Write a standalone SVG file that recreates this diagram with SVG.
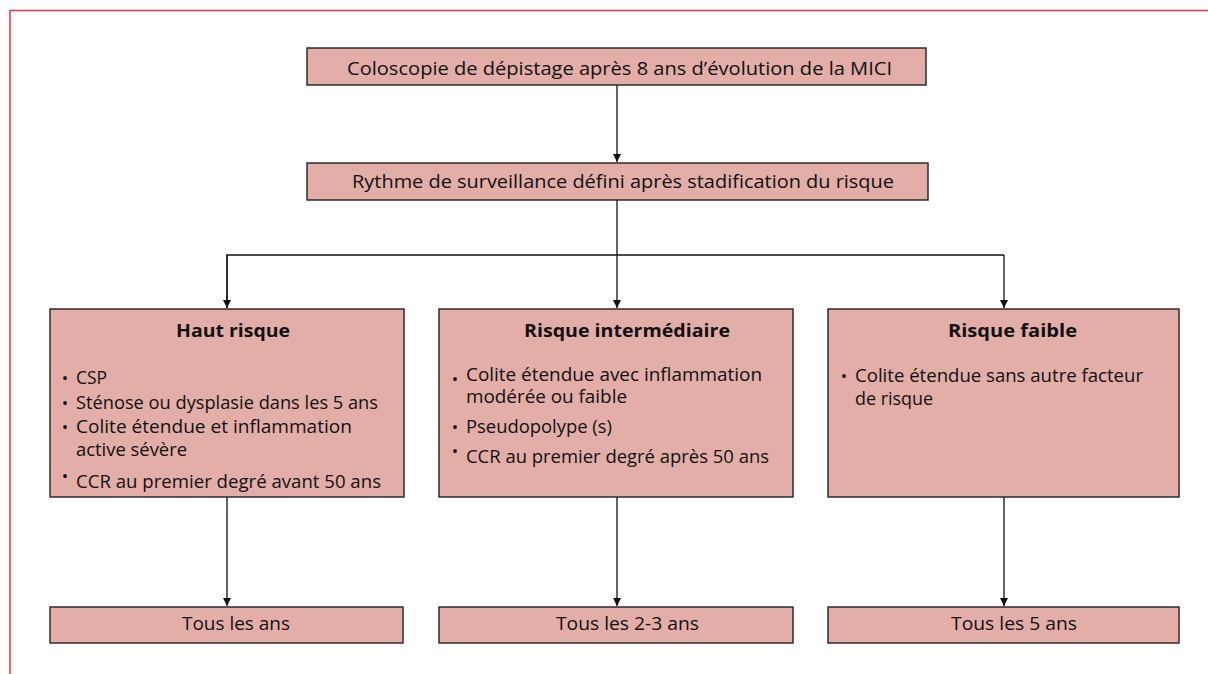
<svg xmlns="http://www.w3.org/2000/svg" width="1208" height="674" viewBox="0 0 1208 674">
<style>
.box{fill:#E3AEA8;stroke:#231F20;stroke-width:1.4}
.t{font-family:"Open Sans","Noto Sans","Liberation Sans",sans-serif;font-size:18px;fill:#111}
.b{font-family:"Open Sans","Noto Sans","Liberation Sans",sans-serif;font-size:18px;font-weight:bold;fill:#111}
.bul{font-family:"Open Sans","Noto Sans","Liberation Sans",sans-serif;font-size:17px;fill:#111;text-anchor:middle}
.c{fill:none;stroke:#111;stroke-width:1.3}
</style>
<defs>
<marker id="ah" markerUnits="userSpaceOnUse" markerWidth="9" markerHeight="9" refX="8" refY="4" orient="auto">
<path d="M0,0 L8,4 L0,8 z" fill="#111"/>
</marker>
</defs>
<rect x="10" y="10.5" width="1300" height="800" fill="none" stroke="#EE3340" stroke-width="1.5"/>
<g id="connectors">
<line class="c" x1="617" y1="85" x2="617" y2="162" marker-end="url(#ah)"/>
<line class="c" x1="617" y1="200" x2="617" y2="308" marker-end="url(#ah)"/>
<polyline class="c" points="227,308 227,255 1004,255"/>
<path class="c" d="M227,255 L227,308" marker-end="url(#ah)"/>
<path class="c" d="M1004,255 L1004,308" marker-end="url(#ah)"/>
<line class="c" x1="227" y1="497" x2="227" y2="606" marker-end="url(#ah)"/>
<line class="c" x1="617" y1="497" x2="617" y2="606" marker-end="url(#ah)"/>
<line class="c" x1="1004" y1="497" x2="1004" y2="606" marker-end="url(#ah)"/>
</g>
<g id="depistage">
<rect class="box" x="307" y="48" width="619" height="37"/>
<text class="t" x="347" y="75" textLength="545" lengthAdjust="spacingAndGlyphs">Coloscopie de dépistage après 8 ans d’évolution de la MICI</text>
</g>
<g id="rythme">
<rect class="box" x="307" y="163" width="621" height="37"/>
<text class="t" x="352" y="188" textLength="542" lengthAdjust="spacingAndGlyphs">Rythme de surveillance défini après stadification du risque</text>
</g>
<g id="haut-risque">
<rect class="box" x="50" y="309" width="354" height="188"/>
<text class="b" x="176" y="337" textLength="114" lengthAdjust="spacingAndGlyphs">Haut risque</text>
<text class="bul" x="65" y="384">•</text>
<text class="t" x="76" y="384" textLength="31" lengthAdjust="spacingAndGlyphs">CSP</text>
<text class="bul" x="65" y="409">•</text>
<text class="t" x="76" y="409" textLength="302" lengthAdjust="spacingAndGlyphs">Sténose ou dysplasie dans les 5 ans</text>
<text class="bul" x="65" y="433">•</text>
<text class="t" x="76" y="433" textLength="276" lengthAdjust="spacingAndGlyphs">Colite étendue et inflammation</text>
<text class="t" x="76" y="456" textLength="111" lengthAdjust="spacingAndGlyphs">active sévère</text>
<text class="bul" x="65" y="482">•</text>
<text class="t" x="76" y="488" textLength="305" lengthAdjust="spacingAndGlyphs">CCR au premier degré avant 50 ans</text>
</g>
<g id="risque-intermediaire">
<rect class="box" x="439" y="309" width="354" height="188"/>
<text class="b" x="524" y="337" textLength="206" lengthAdjust="spacingAndGlyphs">Risque intermédiaire</text>
<text class="bul" x="455" y="385">•</text>
<text class="t" x="466" y="381" textLength="296" lengthAdjust="spacingAndGlyphs">Colite étendue avec inflammation</text>
<text class="t" x="466" y="403" textLength="161" lengthAdjust="spacingAndGlyphs">modérée ou faible</text>
<text class="bul" x="455" y="433">•</text>
<text class="t" x="466" y="433" textLength="146" lengthAdjust="spacingAndGlyphs">Pseudopolype (s)</text>
<text class="bul" x="455" y="457">•</text>
<text class="t" x="466" y="463" textLength="303" lengthAdjust="spacingAndGlyphs">CCR au premier degré après 50 ans</text>
</g>
<g id="risque-faible">
<rect class="box" x="828" y="309" width="351" height="188"/>
<text class="b" x="948" y="337" textLength="129" lengthAdjust="spacingAndGlyphs">Risque faible</text>
<text class="bul" x="844" y="382">•</text>
<text class="t" x="855" y="382" textLength="288" lengthAdjust="spacingAndGlyphs">Colite étendue sans autre facteur</text>
<text class="t" x="855" y="405" textLength="78" lengthAdjust="spacingAndGlyphs">de risque</text>
</g>
<g id="tous-les-ans">
<rect class="box" x="50" y="607" width="353" height="36"/>
<text class="t" x="182" y="630" textLength="108" lengthAdjust="spacingAndGlyphs">Tous les ans</text>
</g>
<g id="tous-les-2-3-ans">
<rect class="box" x="439" y="607" width="354" height="36"/>
<text class="t" x="556" y="630" textLength="143" lengthAdjust="spacingAndGlyphs">Tous les 2-3 ans</text>
</g>
<g id="tous-les-5-ans">
<rect class="box" x="828" y="607" width="351" height="36"/>
<text class="t" x="951" y="630" textLength="126" lengthAdjust="spacingAndGlyphs">Tous les 5 ans</text>
</g>
</svg>
